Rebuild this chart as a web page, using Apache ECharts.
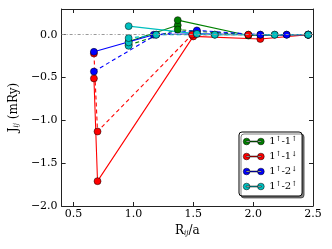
<!DOCTYPE html>
<html><head><meta charset="utf-8">
<script src="https://cdn.jsdelivr.net/npm/echarts@6/dist/echarts.min.js"></script>
<style>html,body{margin:0;padding:0;background:#fff}#c{width:332px;height:249px}</style>
</head><body><div id="c"></div>
<script>
// ---- data ----
var xTicks = [0.5, 1.0, 1.5, 2.0, 2.5];
var yTicks = [-2.0, -1.5, -1.0, -0.5, 0.0];
var names = ['1{s|↑}-1{s|↑}', '1{s|↑}-1{s|↓}', '1{s|↑}-2{s|↓}', '1{s|↑}-2{s|↑}'];

var greenSolidX = [0.96, 1.37, 1.37, 1.96, 2.46];
var greenSolidY = [-0.08, 0.11, 0.17, -0.01, 0.00];
var greenDashX  = [0.96, 1.37, 1.53, 1.96, 2.46];
var greenDashY  = [-0.12, 0.06, 0.04, 0.00, 0.00];

var redSolidX = [0.67, 0.70, 1.50, 2.06, 2.46];
var redSolidY = [-0.51, -1.71, -0.02, -0.05, 0.00];
var redDashX  = [0.67, 0.70, 1.49, 1.96, 2.46];
var redDashY  = [-0.22, -1.13, 0.00, 0.00, 0.00];

var blueSolidX = [0.67, 1.17, 1.53, 2.06, 2.28, 2.46];
var blueSolidY = [-0.20, 0.00, 0.01, 0.00, 0.00, 0.00];
var blueDashX  = [0.67, 1.19, 1.53, 2.06, 2.28];
var blueDashY  = [-0.43, 0.00, 0.05, 0.00, 0.00];

var cyanSolidX = [0.96, 1.53, 1.68, 2.18, 2.46];
var cyanSolidY = [0.10, 0.01, 0.00, 0.00, 0.00];
var cyanDashX  = [0.96, 0.96, 0.96, 1.19, 1.68, 2.18];
var cyanDashY  = [-0.13, -0.09, -0.04, 0.00, 0.00, 0.00];

// ---- chart ----
function zip(xs, ys){ return xs.map(function(x,i){ return [x, ys[i]]; }); }
var FONT = 'DejaVu Serif';
var colors = ['#008000', '#ff0000', '#0000ff', '#00bfbf'];
var sets = [
  [greenSolidX, greenSolidY, greenDashX, greenDashY],
  [redSolidX, redSolidY, redDashX, redDashY],
  [blueSolidX, blueSolidY, blueDashX, blueDashY],
  [cyanSolidX, cyanSolidY, cyanDashX, cyanDashY]
];
function mk(name, color, data, dashed){
  return {
    type:'line', name:name, data:data, symbol:'circle', symbolSize:7,
    itemStyle:{color:color, borderColor:'#000', borderWidth:0.5},
    lineStyle:{color:color, width:1.1, type: dashed ? [4,3] : 'solid'},
    emphasis:{disabled:true}, animation:false, z:3
  };
}
var series = [];
series.push({
  type:'line', data:[], silent:true, animation:false, z:1,
  markLine:{silent:true, symbol:'none', label:{show:false},
    lineStyle:{color:'#999', width:1, type:[3,2,1,2]},
    data:[{yAxis:0}]}
});
sets.forEach(function(s, i){
  series.push(mk(names[i], colors[i], zip(s[0], s[1]), false));
  series.push(mk(names[i], colors[i], zip(s[2], s[3]), true));
});
var axisLine = {show:true, onZero:false, lineStyle:{color:'#222', width:1}};
function fmt(v){ return (v < 0 ? '\u2212' : '') + Math.abs(v).toFixed(1); }
var iconPath = 'path://M0,3.5a3.5,3.5 0 1,0 7,0a3.5,3.5 0 1,0 -7,0Z M15,3.5a3.5,3.5 0 1,0 7,0a3.5,3.5 0 1,0 -7,0Z M3,3H19V4H3Z';
var option = {
  backgroundColor:'#fff',
  grid:{left:60, right:19, top:9, bottom:43},
  xAxis:[{
    type:'value', min:0.4, max:2.5, position:'bottom',
    name:'R{sub|ij}/a', nameLocation:'middle', nameGap:16,
    nameTextStyle:{fontFamily:FONT, fontSize:12, color:'#000',
      rich:{sub:{fontFamily:FONT, fontSize:7, fontStyle:'italic', verticalAlign:'bottom', padding:[5,0,0,0]}}},
    axisLine:axisLine, splitLine:{show:false},
    axisTick:{inside:true, length:4, lineStyle:{color:'#222'}, customValues:xTicks},
    axisLabel:{customValues:xTicks, formatter:fmt, fontFamily:FONT, fontSize:11, color:'#000', margin:3}
  },{
    type:'value', min:0.4, max:2.5, position:'top',
    axisLine:axisLine, splitLine:{show:false},
    axisTick:{inside:true, length:4, lineStyle:{color:'#222'}, customValues:xTicks},
    axisLabel:{show:false}
  }],
  yAxis:[{
    type:'value', min:-2.0, max:0.3, position:'left',
    name:'J{sub|ij} (mRy)', nameLocation:'middle', nameGap:40, nameRotate:90,
    nameTextStyle:{fontFamily:FONT, fontSize:12, color:'#000',
      rich:{sub:{fontFamily:FONT, fontSize:7, fontStyle:'italic', padding:[5,0,0,0]}}},
    axisLine:axisLine, splitLine:{show:false},
    axisTick:{inside:true, length:4, lineStyle:{color:'#222'}, customValues:yTicks},
    axisLabel:{customValues:yTicks, formatter:fmt, fontFamily:FONT, fontSize:11, color:'#000', margin:4}
  },{
    type:'value', min:-2.0, max:0.3, position:'right',
    axisLine:axisLine, splitLine:{show:false},
    axisTick:{inside:true, length:4, lineStyle:{color:'#222'}, customValues:yTicks},
    axisLabel:{show:false}
  }],
  legend:{
    data:names, orient:'vertical', left:239, top:132,
    icon:iconPath, itemWidth:21, itemHeight:7, itemGap:4,
    itemStyle:{borderWidth:0.5, borderColor:'#000'},
    backgroundColor:'#fff', borderColor:'#000', borderWidth:1, borderRadius:3,
    padding:[4,5,4,4],
    shadowColor:'rgba(0,0,0,0.5)', shadowBlur:0, shadowOffsetX:2, shadowOffsetY:2,
    textStyle:{fontFamily:FONT, fontSize:10, color:'#000', lineHeight:10.5,
      rich:{s:{fontFamily:FONT, fontSize:7, lineHeight:10.5, padding:[0,0,4,0]}}},
    selectedMode:false
  },
  series:series
};
var chart = echarts.init(document.getElementById('c'), null, {renderer:'canvas'});
chart.setOption(option);
</script></body></html>
